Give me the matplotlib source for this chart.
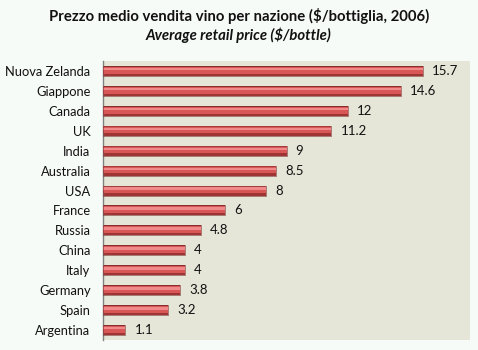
import numpy as np
import matplotlib.pyplot as plt

# --- Data --------------------------------------------------------------------
countries = ['Nuova Zelanda', 'Giappone', 'Canada', 'UK', 'India', 'Australia',
             'USA', 'France', 'Russia', 'China', 'Italy', 'Germany', 'Spain',
             'Argentina']
prices = [15.7, 14.6, 12, 11.2, 9, 8.5, 8, 6, 4.8, 4, 4, 3.8, 3.2, 1.1]
labels = ['15.7', '14.6', '12', '11.2', '9', '8.5', '8', '6', '4.8', '4', '4',
          '3.8', '3.2', '1.1']

plt.rcParams['font.family'] = ['Lato', 'DejaVu Sans']

fig = plt.figure(figsize=(4.78, 3.5), dpi=100, facecolor='#F7FBF8')
ax = fig.add_axes([103 / 478, 10 / 350, 367 / 478, 279 / 350])
ax.set_facecolor('#E6E6D8')

y = np.arange(len(countries))
h = 0.5

# Cylinder-like shading: dark base, lighter upper band, thin highlight
ax.barh(y, prices, height=h, color='#9E3434', zorder=2)
ax.barh(y - h * 0.08, prices, height=h * 0.7, color='#D85656', zorder=3)
ax.barh(y - h * 0.18, prices, height=h * 0.25, color='#F08A8A', zorder=4)
ax.barh(y, prices, height=h, color='none', edgecolor='#7A2828', lw=0.4, zorder=5)

for yi, v, t in zip(y, prices, labels):
    ax.text(v + 0.45, yi, t, va='center', ha='left', fontsize=9.5, color='#111111')

ax.set_xlim(0, 18)
ax.set_ylim(len(countries) - 0.5, -0.5)
ax.set_yticks(y)
ax.set_yticklabels(countries, fontsize=9.3, color='#111111')
ax.tick_params(axis='y', length=0, pad=9)
ax.set_xticks([])
for s in ['top', 'right', 'bottom']:
    ax.spines[s].set_visible(False)
ax.spines['left'].set_color('#808080')
ax.spines['left'].set_linewidth(1.0)

fig.text(0.5, 1 - 16 / 350, 'Prezzo medio vendita vino per nazione ($/bottiglia, 2006)',
         ha='center', va='center', fontsize=10.7, fontweight='bold', color='#111111')
fig.text(0.5, 1 - 35 / 350, 'Average retail price ($/bottle)',
         ha='center', va='center', fontsize=10.7, fontweight='bold', style='italic',
         color='#111111')

fig.savefig('out.png', dpi=100, facecolor=fig.get_facecolor())
